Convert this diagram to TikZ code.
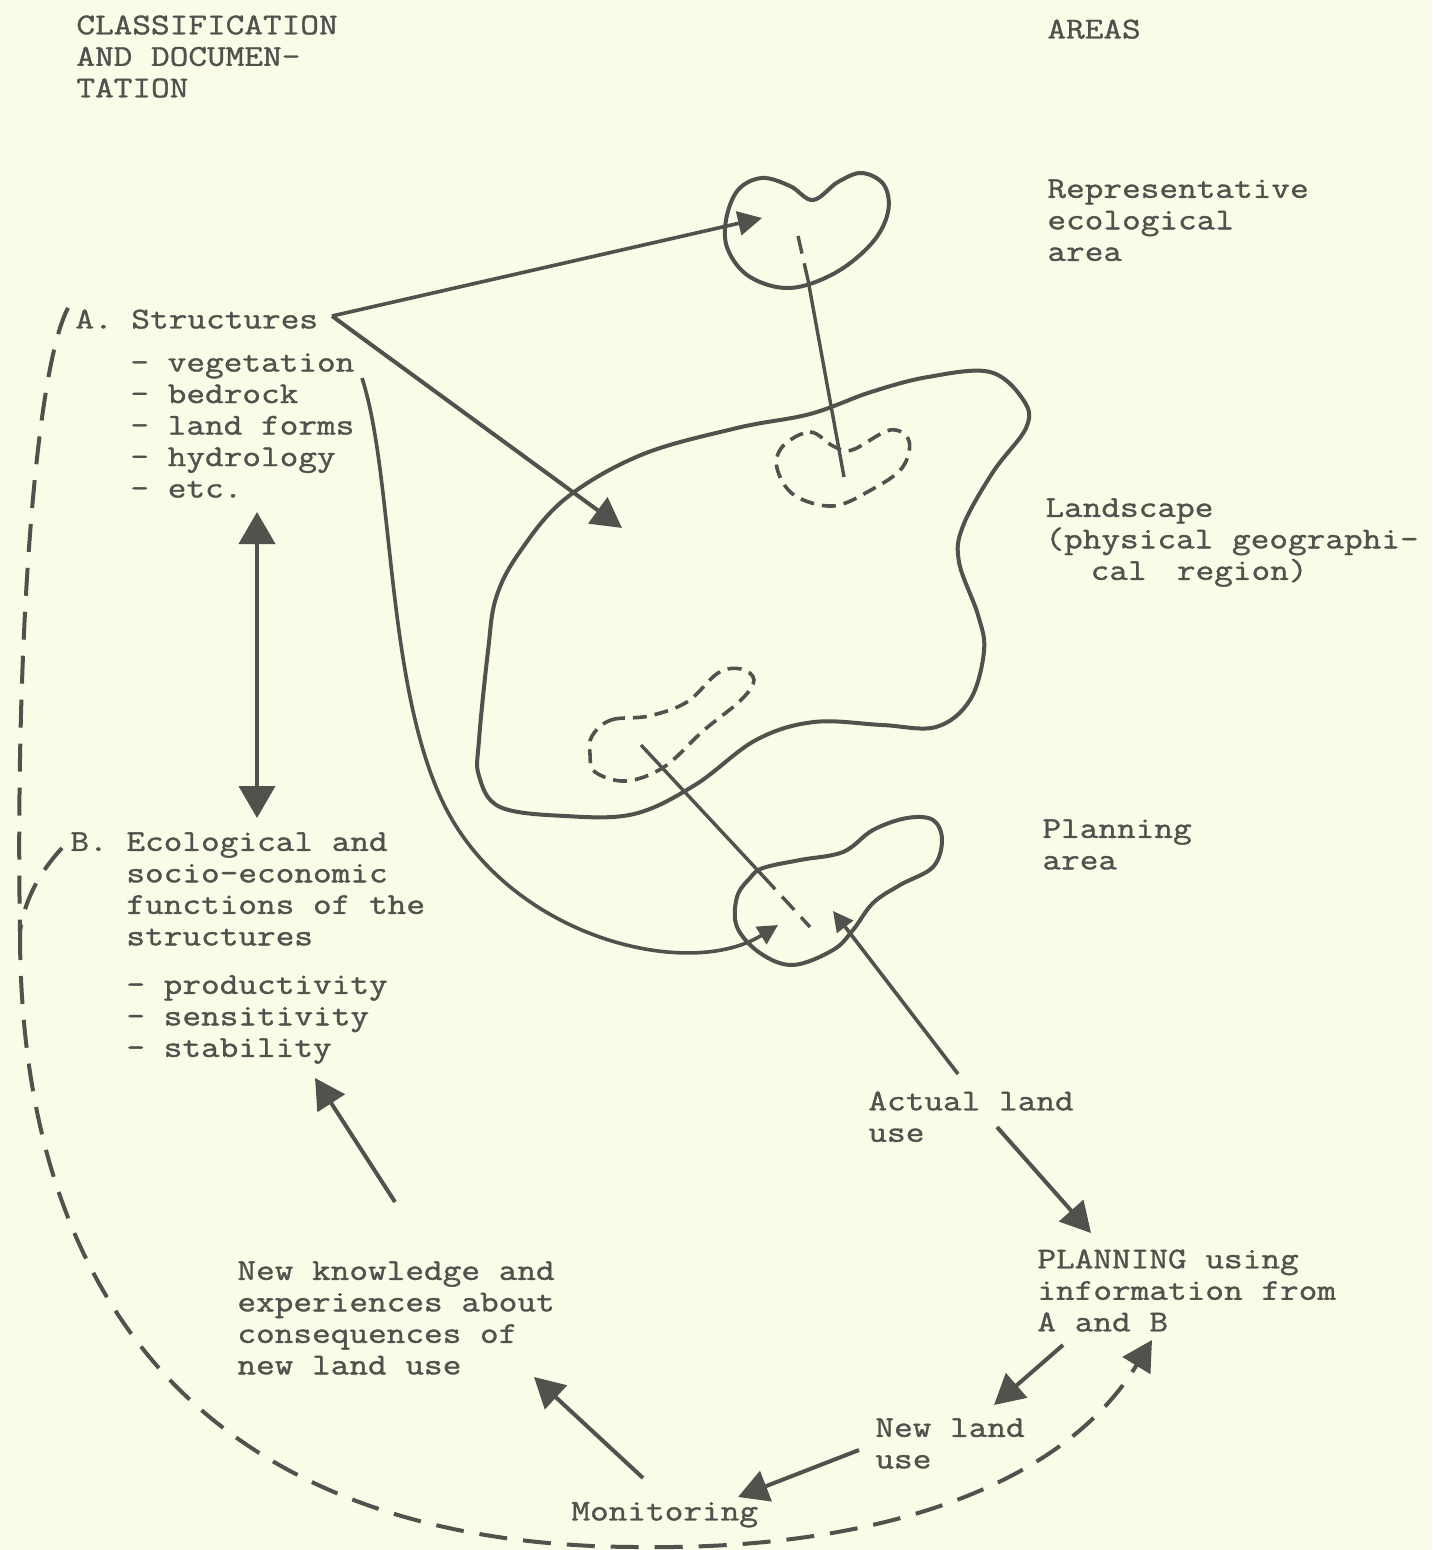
\documentclass[tikz,border=0pt]{standalone}
\usepackage{fontspec}
\setmonofont{Latin Modern Mono}[FakeStretch=1.2, FakeBold=1.2]
\usepackage{tikz}
\usetikzlibrary{arrows.meta}
\definecolor{paper}{RGB}{250,252,232}
\definecolor{ink}{RGB}{80,82,78}
\tikzstyle{txt} = [anchor=north west, inner sep=0pt, align=left, text=ink, font=\ttfamily\fontsize{15.1}{15.75}\selectfont, execute at begin node=\strut]
\tikzstyle{outline} = [draw=ink, line width=2pt]
\tikzstyle{dashoutline} = [draw=ink, line width=1.8pt, dash pattern=on 7pt off 4pt]
\tikzstyle{link} = [draw=ink, line width=1.7pt]
\tikzstyle{arrow} = [draw=ink, line width=2pt, -{Triangle[length=15pt,width=16pt]}]
\tikzstyle{smallarrow} = [draw=ink, line width=1.8pt, -{Triangle[length=10pt,width=10pt]}]
\tikzstyle{feedback} = [draw=ink, line width=2pt, dash pattern=on 14pt off 8pt]

\begin{document}
\begin{tikzpicture}[x=0.5pt,y=-0.5pt]
    \fill[paper] (0,0) rectangle (1432,1550);
    \useasboundingbox (0,0) rectangle (1432,1550);

    % column headings
    \node (cls) [txt] at (76,15) {CLASSIFICATION\\AND DOCUMEN-\\TATION};
    \node (areas) [txt] at (1047,16) {AREAS};

    % left column
    \node (A) [txt] at (75,306) {A. Structures};
    \node (Alist) [txt] at (130,353) {- vegetation\\- bedrock\\- land forms\\- hydrology\\- etc.};
    \node (B) [txt] at (70,832) {B. Ecological and\\\phantom{B. }socio-economic\\\phantom{B. }functions of the\\\phantom{B. }structures};
    \node (Blist) [txt] at (126,975) {- productivity\\- sensitivity\\- stability};

    % right column
    \node (rep) [txt] at (1047,179) {Representative\\ecological\\area};
    \node (land) [txt] at (1045,498) {Landscape\\(physical geographi-\\\hspace*{1.5em}cal\hspace{1em}region)};
    \node (plan) [txt] at (1042,819) {Planning\\area};

    % planning cycle
    \node (actual) [txt] at (868,1091) {Actual land\\use};
    \node (planning) [txt] at (1037,1249) {PLANNING using\\information from\\A and B};
    \node (know) [txt] at (237,1261) {New knowledge and\\experiences about\\consequences of\\new land use};
    \node (newuse) [txt] at (875,1418) {New land\\use};
    \node (mon) [txt] at (571,1498) {Monitoring};

    % areas
    \draw [outline] plot[smooth cycle, tension=0.6] coordinates {(726,220) (738,190) (762,178) (790,186) (813,200) (838,182) (862,173) (884,185) (888,212) (872,243) (835,273) (790,288) (750,277) (728,250)};
    \draw [outline] plot[smooth cycle, tension=0.6] coordinates {(810,414) (871,392) (928,377) (990,372) (1024,401) (1026,428) (993,472) (963,526) (959,562) (978,615) (984,651) (970,700) (936,727) (882,725) (814,722) (756,740) (695,785) (634,814) (565,816) (500,807) (479,776) (479,740) (488,651) (496,598) (519,553) (565,499) (641,455) (737,428)};
    \draw [dashoutline] plot[smooth cycle, tension=0.6] coordinates {(783,446) (810,432) (833,446) (852,450) (890,430) (909,441) (902,468) (871,490) (833,506) (794,495) (777,468)};
    \draw [dashoutline] plot[smooth cycle, tension=0.6] coordinates {(592,736) (611,720) (649,716) (687,702) (718,673) (741,669) (754,680) (741,700) (703,731) (664,767) (626,781) (595,772) (590,754)};
    \draw [outline] plot[smooth cycle, tension=0.6] coordinates {(763,868) (800,860) (843,852) (873,830) (907,818) (933,820) (942,840) (933,867) (900,885) (873,903) (853,930) (833,950) (793,965) (760,953) (737,927) (737,897) (750,878)};

    % points on the areas
    \coordinate (Aout) at (332,316);
    \coordinate (repin) at (762,218);
    \coordinate (landin) at (622,528);
    \coordinate (repc) at (798,236);
    \coordinate (repb) at (808,280);
    \coordinate (lsc) at (844,477);
    \coordinate (lpc) at (641,745);
    \coordinate (pb) at (763,876);
    \coordinate (pc) at (810,927);
    \coordinate (vegout) at (362,378);
    \coordinate (pin) at (778,925);
    \coordinate (pin2) at (833,911);
    \coordinate (actin) at (958,1074);

    \draw [smallarrow, -{Triangle[length=12pt,width=12pt]}] (Aout) -- (repin);
    \draw [arrow] (Aout) -- (landin);
    \draw [link, dash pattern=on 9pt off 5pt] (repc) -- (repb);
    \draw [link] (repb) -- (lsc);
    \draw [link] (lpc) -- (pb);
    \draw [link, dash pattern=on 9pt off 5pt] (pb) -- (pc);
    \draw [smallarrow] (vegout) .. controls (395,480) and (385,700) .. (450,816) .. controls (520,940) and (690,980) .. (pin);
    \draw [smallarrow] (actin) -- (pin2);

    % A <-> B
    \coordinate (Abot) at (257,512);
    \coordinate (Btop) at (257,818);
    \draw [arrow, {Triangle[length=16pt,width=18pt]}-{Triangle[length=16pt,width=18pt]}] (Abot) -- (Btop);

    % cycle arrows
    \coordinate (actout) at (997,1127);
    \coordinate (planin) at (1091,1233);
    \coordinate (planout) at (1063,1345);
    \coordinate (newin) at (994,1405);
    \coordinate (newout) at (859,1450);
    \coordinate (monin) at (738,1497);
    \coordinate (monout) at (643,1478);
    \coordinate (knowin) at (534,1377);
    \coordinate (knowout) at (395,1202);
    \coordinate (stabin) at (315,1078);
    \draw [arrow] (actout) -- (planin);
    \draw [arrow] (planout) -- (newin);
    \draw [arrow] (newout) -- (monin);
    \draw [arrow] (monout) -- (knowin);
    \draw [arrow] (knowout) -- (stabin);

    % feedback loop
    \coordinate (Adash) at (68,308);
    \coordinate (Bdash) at (62,848);
    \coordinate (join) at (20,932);
    \coordinate (low) at (640,1547);
    \coordinate (planback) at (1152,1340);
    \draw [feedback] (Adash) .. controls (35,370) and (15,650) .. (join);
    \draw [feedback] (Bdash) .. controls (38,874) and (24,902) .. (join);
    \draw [feedback, -{Triangle[length=15pt,width=16pt]}] (join) .. controls (20,1331) and (237,1547) .. (low) .. controls (870,1550) and (1060,1490) .. (planback);
\end{tikzpicture}
\end{document}
